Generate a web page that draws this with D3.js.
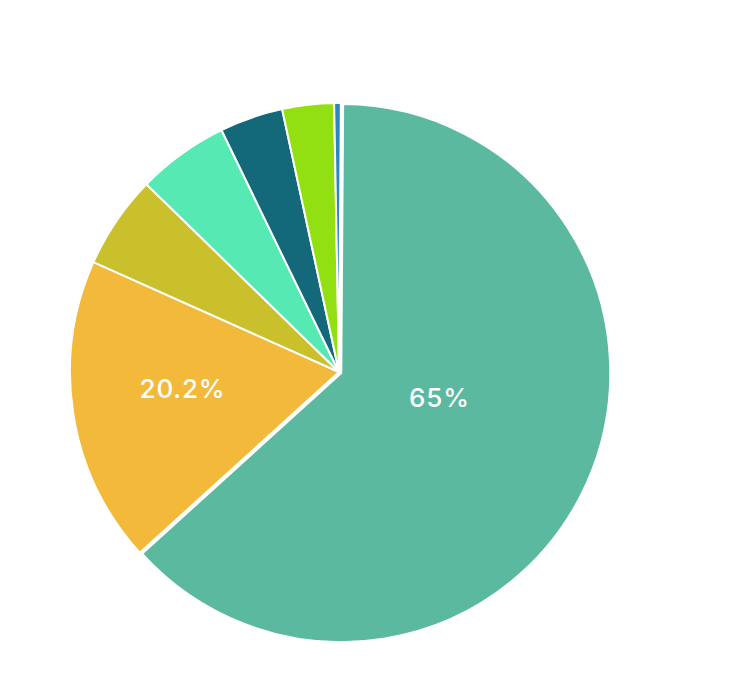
<!DOCTYPE html>
<html>
<head>
<meta charset="utf-8">
<script src="https://cdn.jsdelivr.net/npm/d3@7"></script>
<style>
  html, body { margin: 0; padding: 0; background: #ffffff; }
  svg { display: block; }
</style>
</head>
<body>
<svg id="chart" width="732" height="697"></svg>
<script>
// Data (slice shares), clockwise from 12 o'clock
const categories = ["A", "B", "C", "D", "E", "F", "G"];
const values = [63.1, 18.4, 5.6, 5.5, 3.8, 3.1, 0.4];
const labels = ["65%", "20.2%", "", "", "", "", ""];
const colors = ["#5ab99e", "#f2b93b", "#c9c02c", "#56e9b4", "#13687a", "#93e012", "#2e86c1"];

const width = 732, height = 697;
const cx = 339, cy = 372, radius = 269;

const svg = d3.select("#chart");
const g = svg.append("g").attr("transform", `translate(${cx},${cy})`);

const pie = d3.pie().sort(null).value(d => d.value)
  .startAngle(0.4 * Math.PI / 180).endAngle(Math.PI * 2 + 0.4 * Math.PI / 180);
const data = categories.map((c, i) => ({ cat: c, value: values[i], label: labels[i], color: colors[i] }));
const arcs = pie(data);

const arc = d3.arc().innerRadius(0).outerRadius(radius);

// first slice is pulled out slightly
const explode = [2.5, 0, 0, 0, 0, 0, 0];

g.selectAll("path.slice")
  .data(arcs)
  .join("path")
  .attr("class", "slice")
  .attr("d", arc)
  .attr("fill", d => d.data.color)
  .attr("stroke", "#ffffff")
  .attr("stroke-width", 2)
  .attr("stroke-linejoin", "round")
  .attr("transform", (d, i) => {
    const a = (d.startAngle + d.endAngle) / 2;
    return `translate(${Math.sin(a) * explode[i]},${-Math.cos(a) * explode[i]})`;
  });

// label placement: radius fraction and angular shift per labelled slice
const labelPos = { 0: { r: 0.385, shift: -10 }, 1: { r: 0.585, shift: 3 } };
g.selectAll("text.lbl")
  .data(arcs.filter(d => d.data.label))
  .join("text")
  .attr("class", "lbl")
  .attr("transform", d => {
    const i = d.index;
    const p = labelPos[i];
    const a = (d.startAngle + d.endAngle) / 2 + p.shift * Math.PI / 180;
    const r = radius * p.r;
    return `translate(${Math.sin(a) * r},${-Math.cos(a) * r})`;
  })
  .attr("text-anchor", "middle")
  .attr("dominant-baseline", "central")
  .attr("fill", "#ffffff")
  .style("font-family", "Inter, 'Open Sans', sans-serif")
  .style("font-size", "26px")
  .style("font-weight", 500)
  .style("letter-spacing", "0.8px")
  .text(d => d.data.label);
</script>
</body>
</html>
